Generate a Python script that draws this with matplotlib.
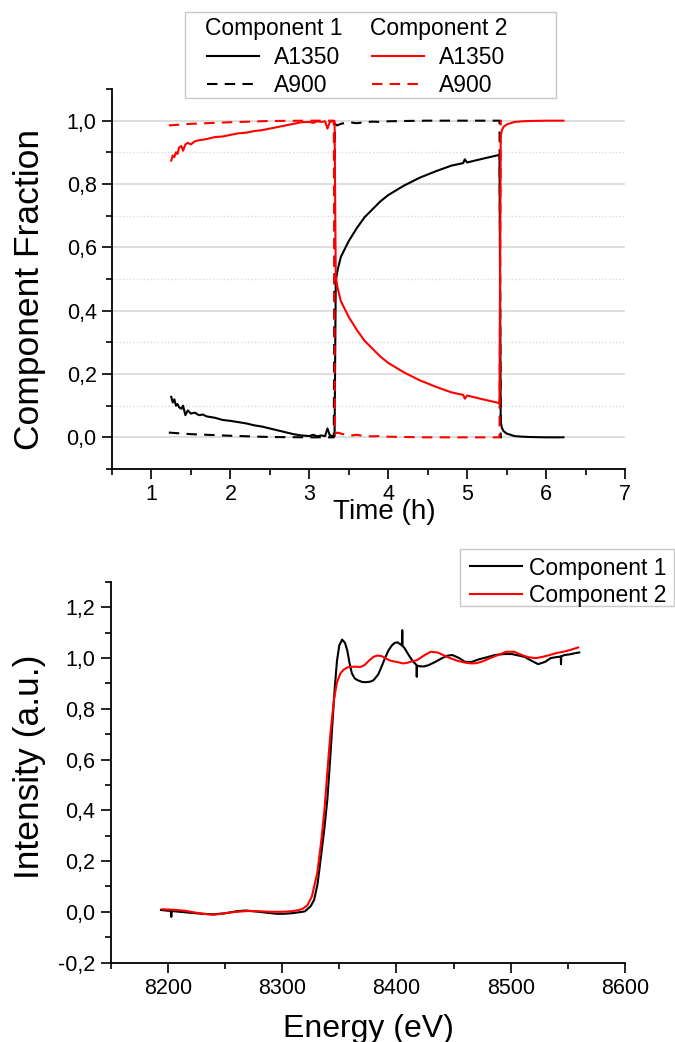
import matplotlib
matplotlib.use("Agg")
import matplotlib.pyplot as plt
from matplotlib.patches import Rectangle
from matplotlib.ticker import MultipleLocator, FuncFormatter

plt.rcParams['font.family'] = ['Liberation Sans', 'DejaVu Sans']

# ---------------- Top chart data: component fractions vs time ----------------
time_a1350 = [1.25, 1.27, 1.29, 1.31, 1.33, 1.35, 1.38, 1.40, 1.43, 1.46, 1.50, 1.55,
              1.60, 1.65, 1.70, 1.80, 1.90, 2.00, 2.10, 2.20, 2.30, 2.40, 2.50, 2.60,
              2.70, 2.80, 2.90, 3.00, 3.05, 3.10, 3.15, 3.20, 3.23, 3.26, 3.30, 3.32,
              3.335, 3.34, 3.36, 3.40, 3.45, 3.50, 3.60, 3.70, 3.80, 3.90, 4.00, 4.20,
              4.40, 4.60, 4.80, 4.95, 4.97, 5.00, 5.20, 5.41, 5.425, 5.44, 5.46, 5.50,
              5.55, 5.60, 5.70, 5.80, 6.00, 6.22]
comp1_a1350 = [0.128, 0.110, 0.120, 0.100, 0.105, 0.095, 0.090, 0.100, 0.070, 0.085, 0.075, 0.078,
               0.070, 0.072, 0.066, 0.062, 0.055, 0.052, 0.048, 0.044, 0.038, 0.034, 0.028, 0.022,
               0.016, 0.010, 0.006, 0.004, 0.008, 0.003, 0.006, 0.004, 0.028, 0.006, 0.004, 0.003,
               0.490, 0.500, 0.530, 0.570, 0.595, 0.620, 0.660, 0.695, 0.720, 0.745, 0.765, 0.795,
               0.820, 0.840, 0.858, 0.866, 0.878, 0.868, 0.880, 0.892, 0.050, 0.030, 0.020, 0.012,
               0.008, 0.004, 0.002, 0.001, 0.000, 0.000]
comp2_a1350 = [0.874, 0.890, 0.885, 0.900, 0.895, 0.915, 0.920, 0.905, 0.925, 0.930, 0.925, 0.935,
               0.938, 0.940, 0.942, 0.948, 0.950, 0.955, 0.960, 0.962, 0.967, 0.970, 0.975, 0.980,
               0.985, 0.990, 0.995, 0.996, 0.993, 0.998, 0.996, 0.998, 0.975, 0.996, 0.998, 0.999,
               0.510, 0.500, 0.470, 0.430, 0.405, 0.380, 0.340, 0.305, 0.280, 0.255, 0.235, 0.205,
               0.180, 0.160, 0.142, 0.134, 0.122, 0.132, 0.120, 0.108, 0.950, 0.970, 0.980, 0.988,
               0.992, 0.996, 0.998, 0.999, 1.000, 1.000]

time_a900 = [1.22, 1.50, 2.00, 2.50, 3.00, 3.31, 3.325, 3.35, 3.40, 3.50, 3.60, 3.70,
             3.80, 3.90, 4.00, 4.20, 4.50, 5.00, 5.41, 5.425, 5.44]
comp1_a900 = [0.015, 0.010, 0.005, 0.001, 0.000, 0.000, 0.990, 0.985, 0.990, 0.995, 0.992, 0.995,
              0.997, 0.996, 0.998, 0.999, 1.000, 1.000, 1.000, 0.000, 0.000]
comp2_a900 = [0.985, 0.990, 0.995, 0.999, 1.000, 1.000, 0.010, 0.015, 0.012, 0.005, 0.008, 0.004,
              0.003, 0.004, 0.002, 0.001, 0.000, 0.000, 0.000, 1.000, 1.000]

# ---------------- Bottom chart data: component spectra ----------------
energy_c1 = [8194, 8200, 8202.5, 8203, 8203.5, 8210, 8220, 8230, 8240, 8250, 8260, 8268,
             8275, 8285, 8295, 8302, 8310, 8318, 8320, 8322, 8325, 8328, 8331, 8334,
             8337, 8339.5, 8342, 8344, 8346, 8348, 8350, 8352.5, 8355, 8357, 8359, 8361,
             8363.5, 8366, 8370, 8373, 8377, 8380, 8384, 8387, 8390, 8393, 8396, 8398.5,
             8401, 8404.8, 8405.0, 8405.2, 8405.4, 8407, 8409, 8411, 8414, 8417.6, 8417.8,
             8418.0, 8420, 8424, 8428, 8434, 8440, 8445, 8449, 8455, 8460, 8466, 8472,
             8479, 8486, 8494, 8501, 8507, 8512, 8518, 8524, 8530, 8535, 8540, 8543.8,
             8544.0, 8544.2, 8547, 8552, 8557, 8560]
inten_c1 = [0.007, 0.004, 0.004, -0.020, 0.003, 0.000, -0.004, -0.008, -0.010, -0.006, 0.002, 0.005,
            0.002, -0.003, -0.008, -0.008, -0.005, 0.000, 0.002, 0.010, 0.022, 0.047, 0.110, 0.218,
            0.330, 0.440, 0.600, 0.743, 0.880, 0.990, 1.050, 1.073, 1.060, 1.030, 0.980, 0.940,
            0.920, 0.913, 0.906, 0.905, 0.907, 0.913, 0.935, 0.966, 1.000, 1.030, 1.050, 1.060,
            1.062, 1.050, 1.110, 1.110, 1.048, 1.040, 1.025, 1.010, 0.990, 0.972, 0.926,
            0.970, 0.968, 0.967, 0.972, 0.985, 1.000, 1.010, 1.012, 1.000, 0.985, 0.985, 0.995,
            1.003, 1.012, 1.016, 1.016, 1.010, 1.005, 0.990, 0.976, 0.985, 1.000, 1.004, 1.006,
            0.976, 1.007, 1.012, 1.015, 1.020, 1.022]

energy_c2 = [8195, 8205, 8215, 8225, 8235, 8240, 8250, 8260, 8270, 8280, 8290, 8300,
             8308, 8314, 8318, 8322, 8326, 8330.7, 8334, 8337, 8339.5, 8342, 8345.3, 8348,
             8351, 8354, 8357, 8361, 8365, 8368.5, 8372, 8376, 8380, 8383, 8387, 8391,
             8394.7, 8400, 8406, 8410, 8412, 8418, 8424, 8430, 8436, 8441, 8447, 8453,
             8460, 8466, 8470, 8476, 8482, 8489, 8496, 8503, 8511, 8516, 8522, 8528,
             8534, 8540, 8546, 8552, 8559]
inten_c2 = [0.010, 0.008, 0.004, -0.004, -0.010, -0.012, -0.006, 0.000, 0.003, 0.002, 0.000, 0.000,
            0.002, 0.006, 0.012, 0.025, 0.060, 0.152, 0.270, 0.400, 0.547, 0.690, 0.835, 0.905,
            0.940, 0.955, 0.963, 0.966, 0.966, 0.965, 0.972, 0.990, 1.005, 1.010, 1.008, 0.998,
            0.990, 0.985, 0.979, 0.982, 0.985, 0.992, 1.010, 1.025, 1.022, 1.012, 1.000, 0.990,
            0.982, 0.979, 0.980, 0.988, 1.000, 1.012, 1.025, 1.025, 1.010, 1.003, 1.000, 1.005,
            1.012, 1.020, 1.025, 1.032, 1.042]

series_labels = ['A1350', 'A900']
legend_titles = ['Component 1', 'Component 2']
spectrum_labels = ['Component 1', 'Component 2']

BLACK = '#000000'
RED = '#ff0000'
DASH = (5, 3.5)
LEG_FS = 16.5
FRAME = '#c8c8c8'

W, H = 675, 1042
fig = plt.figure(figsize=(W / 100, H / 100), dpi=100)


def comma_fmt(v, pos):
    if abs(v) < 1e-9:
        v = 0.0
    return f"{v:.1f}".replace('.', ',')


def style_axes(ax):
    for s in ['top', 'right']:
        ax.spines[s].set_visible(False)
    for s in ['left', 'bottom']:
        ax.spines[s].set_linewidth(1.3)
    ax.tick_params(which='major', direction='out', length=7, width=1.2, labelsize=15.5, pad=4)
    ax.tick_params(which='minor', direction='out', length=4, width=1.2)


def frame_box(x0, y0, x1, y1):
    fig.add_artist(Rectangle((x0 / W, 1 - y1 / H), (x1 - x0) / W, (y1 - y0) / H,
                             transform=fig.transFigure, fill=False, edgecolor=FRAME, lw=1.0))


# ---------------- Top axes ----------------
ax1 = fig.add_axes([112 / W, 1 - 469 / H, (625 - 112) / W, (469 - 89) / H])
l1, = ax1.plot(time_a1350, comp1_a1350, color=BLACK, lw=1.5)
l2, = ax1.plot(time_a900, comp1_a900, color=BLACK, lw=1.5, dashes=DASH)
l3, = ax1.plot(time_a1350, comp2_a1350, color=RED, lw=1.5)
l4, = ax1.plot(time_a900, comp2_a900, color=RED, lw=1.5, dashes=DASH)
ax1.set_xlim(0.5, 7)
ax1.set_ylim(-0.1, 1.1)
ax1.xaxis.set_major_locator(MultipleLocator(1))
ax1.xaxis.set_minor_locator(MultipleLocator(0.5))
ax1.set_yticks([0.0, 0.2, 0.4, 0.6, 0.8, 1.0])
ax1.yaxis.set_minor_locator(MultipleLocator(0.1))
ax1.yaxis.set_major_formatter(FuncFormatter(comma_fmt))
style_axes(ax1)
for gv in [0.0, 0.2, 0.4, 0.6, 0.8, 1.0]:
    ax1.axhline(gv, color='#d4d4d4', lw=1.1, zorder=0)
for gv in [0.1, 0.3, 0.5, 0.7, 0.9]:
    ax1.axhline(gv, color='#dcdcdc', lw=1.0, ls=(0, (1, 1.5)), zorder=0)

fig.text(30 / W, 1 - 289 / H, 'Component Fraction', rotation=90, ha='center', va='center',
         fontsize=25.5)
fig.text(384 / W, 1 - 519 / H, 'Time (h)', ha='center', va='baseline', fontsize=20)

# two-column legend with column titles
leg_kw = dict(loc='upper left', frameon=False, fontsize=LEG_FS, title_fontsize=LEG_FS,
              borderpad=0, borderaxespad=0, handlelength=2.27, handletextpad=0.64,
              labelspacing=0.2)
leg1 = fig.legend([l1, l2], series_labels, title=legend_titles[0],
                  bbox_to_anchor=(205 / W, 1 - 17 / H), **leg_kw)
leg2 = fig.legend([l3, l4], series_labels, title=legend_titles[1],
                  bbox_to_anchor=(370 / W, 1 - 17 / H), **leg_kw)
for lg in (leg1, leg2):
    lg._legend_box.sep = 0.2 * LEG_FS + 1.2
frame_box(185, 12, 556, 98)

# ---------------- Bottom axes ----------------
ax2 = fig.add_axes([110.7 / W, 1 - 962.5 / H, (625 - 110.7) / W, (962.5 - 582) / H])
m1, = ax2.plot(energy_c1, inten_c1, color=BLACK, lw=1.5)
m2, = ax2.plot(energy_c2, inten_c2, color=RED, lw=1.5)
ax2.set_xlim(8150, 8600)
ax2.set_ylim(-0.2, 1.3)
ax2.xaxis.set_major_locator(MultipleLocator(100))
ax2.xaxis.set_minor_locator(MultipleLocator(50))
ax2.set_yticks([-0.2, 0.0, 0.2, 0.4, 0.6, 0.8, 1.0, 1.2])
ax2.yaxis.set_minor_locator(MultipleLocator(0.1))
ax2.yaxis.set_major_formatter(FuncFormatter(comma_fmt))
style_axes(ax2)

fig.text(30 / W, 1 - 766.5 / H, 'Intensity (a.u.)', rotation=90, ha='center', va='center',
         fontsize=25.5)
fig.text(368 / W, 1 - 1037 / H, 'Energy (eV)', ha='center', va='baseline', fontsize=23)

fig.legend([m1, m2], spectrum_labels, loc='upper left', bbox_to_anchor=(470 / W, 1 - 556.5 / H),
           borderaxespad=0, borderpad=0, fontsize=LEG_FS, handlelength=2.27,
           handletextpad=0.3, labelspacing=0.2, frameon=False)
frame_box(460, 549, 674, 606)

fig.savefig('out.png', dpi=100)
